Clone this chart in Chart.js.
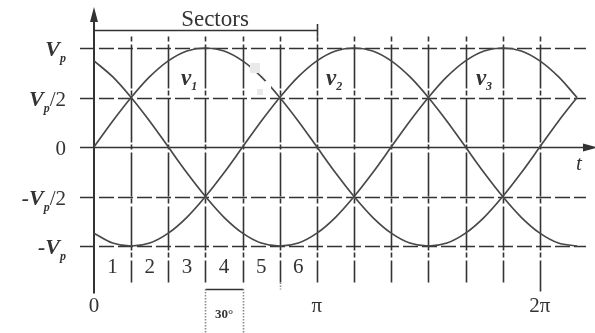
<!DOCTYPE html>
<html>
<head>
<meta charset="utf-8">
<script src="https://cdn.jsdelivr.net/npm/chart.js@4.4.1/dist/chart.umd.min.js"></script>
<style>
  html, body { margin: 0; background: #fff; }
  #wrap { width: 595px; height: 333px; position: relative; }
</style>
</head>
<body>
<div id="wrap"><canvas id="chart"></canvas></div>
<script>
// angle in degrees (in units of Vp)
const angles = [0, 15, 30, 45, 60, 75, 90, 105, 120, 135, 150, 165, 180, 195, 210, 225, 240, 255, 270, 285, 300, 315, 330, 345, 360, 375, 390];
const v1 = [0, 0.26, 0.5, 0.71, 0.87, 0.97, 1, 0.97, 0.87, 0.71, 0.5, 0.26, 0, -0.26, -0.5, -0.71, -0.87, -0.97, -1, -0.97, -0.87, -0.71, -0.5, -0.26, 0, 0.26, 0.5];
const v2 = [-0.87, -0.97, -1, -0.97, -0.87, -0.71, -0.5, -0.26, 0, 0.26, 0.5, 0.71, 0.87, 0.97, 1, 0.97, 0.87, 0.71, 0.5, 0.26, 0, -0.26, -0.5, -0.71, -0.87, -0.97, -1];
const v3 = [0.87, 0.71, 0.5, 0.26, 0, -0.26, -0.5, -0.71, -0.87, -0.97, -1, -0.97, -0.87, -0.71, -0.5, -0.26, 0, 0.26, 0.5, 0.71, 0.87, 0.97, 1, 0.97, 0.87, 0.71, 0.5];
const curveNames = ['1', '2', '3'];
const curveLabelAngles = [76, 193, 314];

const gridAngles = [0, 30, 60, 90, 120, 150, 180, 210, 240, 270, 300, 330, 360];
const levels = [1, 0.5, 0, -0.5, -1];
const levelLabels = ['V|p|', 'V|p|/2', '0', '-V|p|/2', '-V|p|'];
const sectorLabels = ['1', '2', '3', '4', '5', '6'];
const xTickAngles = [0, 180, 360];
const xTickLabels = ['0', 'π', '2π'];

const INK = '#333';
const SERIF = '"Liberation Serif", "DejaVu Serif", serif';

function seg(ctx, x1, y1, x2, y2) {
  ctx.beginPath();
  ctx.moveTo(x1, y1);
  ctx.lineTo(x2, y2);
  ctx.stroke();
}

// label like "-V|p|/2": main part italic bold, p subscript, rest plain
function levelText(ctx, label, right, base) {
  const bits = label.split('|');
  const runs = [];
  if (bits.length === 1) {
    runs.push({ t: bits[0], f: '21px ' + SERIF, dy: 0 });
  } else {
    runs.push({ t: bits[0], f: 'italic bold 22px ' + SERIF, dy: 0 });
    runs.push({ t: bits[1], f: 'italic bold 12px ' + SERIF, dy: 6 });
    if (bits[2]) runs.push({ t: bits[2], f: '21px ' + SERIF, dy: 0 });
  }
  let w = 0;
  runs.forEach(r => { ctx.font = r.f; r.w = ctx.measureText(r.t).width; w += r.w; });
  let cx = right - w;
  runs.forEach(r => {
    ctx.font = r.f;
    ctx.fillText(r.t, cx, base + r.dy);
    cx += r.w;
  });
}

const sketch = {
  id: 'sketch',
  beforeDatasetsDraw(chart) {
    const { ctx, scales: { x, y } } = chart;
    const X = v => Math.round(x.getPixelForValue(v)) + 0.5;
    const Y = v => Math.round(y.getPixelForValue(v)) + 0.5;
    const top = Y(1) - 12, bottom = Y(-1) + 36;
    ctx.save();
    ctx.strokeStyle = INK;
    ctx.fillStyle = INK;
    ctx.lineWidth = 1.6;

    // level lines
    levels.forEach(v => {
      ctx.setLineDash(v === 0 ? [] : [15, 4]);
      seg(ctx, x.left - 14, Y(v), v === 0 ? 590 : x.right + 9, Y(v));
    });

    // vertical lines every 30 degrees
    gridAngles.forEach(a => {
      if (a === 0) return;
      ctx.setLineDash([5, 3, 44, 2]);
      const end = a === 360 ? bottom + 9 : bottom;
      seg(ctx, X(a), top, X(a), end);
    });
    ctx.setLineDash([]);

    // y axis with arrow
    ctx.lineWidth = 2;
    seg(ctx, x.left, 20, x.left, bottom + 11);
    ctx.beginPath();
    ctx.moveTo(x.left, 7);
    ctx.lineTo(x.left - 4, 22);
    ctx.lineTo(x.left + 4, 22);
    ctx.closePath();
    ctx.fill();

    // t axis arrow
    ctx.beginPath();
    ctx.moveTo(598, Y(0));
    ctx.lineTo(583, Y(0) - 4);
    ctx.lineTo(583, Y(0) + 4);
    ctx.closePath();
    ctx.fill();

    // sectors bracket
    ctx.lineWidth = 1.6;
    seg(ctx, x.left, 30.5, X(180), 30.5);
    seg(ctx, X(180), 24, X(180), top);

    // 30 degree span marker
    seg(ctx, X(90), 289.5, X(120), 289.5);
    ctx.strokeStyle = '#8a8a8a';
    ctx.setLineDash([1.5, 1.5]);
    seg(ctx, X(90), 289, X(90), 333);
    seg(ctx, X(120), 289, X(120), 333);
    seg(ctx, X(150), bottom, X(150), bottom + 7);
    ctx.restore();
  },
  afterDatasetsDraw(chart) {
    const { ctx, scales: { x, y } } = chart;
    const X = v => x.getPixelForValue(v);
    const Y = v => y.getPixelForValue(v);
    ctx.save();

    // scan blemishes near the top of v1
    ctx.fillStyle = '#e9e9e9';
    ctx.fillRect(250, 63, 10, 10);
    ctx.fillRect(257, 89, 6, 6);
    ctx.fillStyle = '#fff';
    ctx.fillRect(265, 81, 6, 9);

    ctx.fillStyle = INK;
    ctx.textBaseline = 'alphabetic';

    levels.forEach((v, i) => levelText(ctx, levelLabels[i], 66, Y(v) + 8));

    ctx.textAlign = 'center';
    ctx.font = '23px ' + SERIF;
    ctx.fillText('Sectors', 215, 26);

    ctx.font = '21px ' + SERIF;
    sectorLabels.forEach((s, i) => ctx.fillText(s, X(15 + i * 30), 273));
    xTickAngles.forEach((a, i) => ctx.fillText(xTickLabels[i], X(a), 312));

    ctx.font = 'bold 13px ' + SERIF;
    ctx.fillText('30°', X(105), 318);

    ctx.textAlign = 'left';
    ctx.font = 'italic 21px ' + SERIF;
    ctx.fillText('t', 576, 170);

    curveNames.forEach((n, i) => {
      const px = X(curveLabelAngles[i]) - 7;
      const py = Y(0.7) + 7;
      ctx.font = 'italic bold 23px ' + SERIF;
      ctx.fillText('v', px, py);
      const w = ctx.measureText('v').width;
      ctx.font = 'italic bold 12px ' + SERIF;
      ctx.fillText(n, px + w, py + 5);
    });
    ctx.restore();
  }
};

const toPoints = vals => angles.map((a, i) => ({ x: a, y: vals[i] }));
const curve = vals => ({
  data: toPoints(vals),
  borderColor: '#484848',
  borderWidth: 1.7,
  pointRadius: 0,
  cubicInterpolationMode: 'monotone',
  fill: false,
  clip: false
});

new Chart(document.getElementById('chart'), {
  type: 'line',
  data: { datasets: [curve(v1), curve(v2), curve(v3)] },
  options: {
    responsive: true,
    maintainAspectRatio: false,
    animation: false,
    layout: { padding: { left: 94, right: 18, top: 48, bottom: 87 } },
    plugins: { legend: { display: false }, tooltip: { enabled: false } },
    scales: {
      x: { type: 'linear', min: 0, max: 390, display: false },
      y: { min: -1, max: 1, display: false }
    }
  },
  plugins: [sketch]
});
</script>
</body>
</html>
